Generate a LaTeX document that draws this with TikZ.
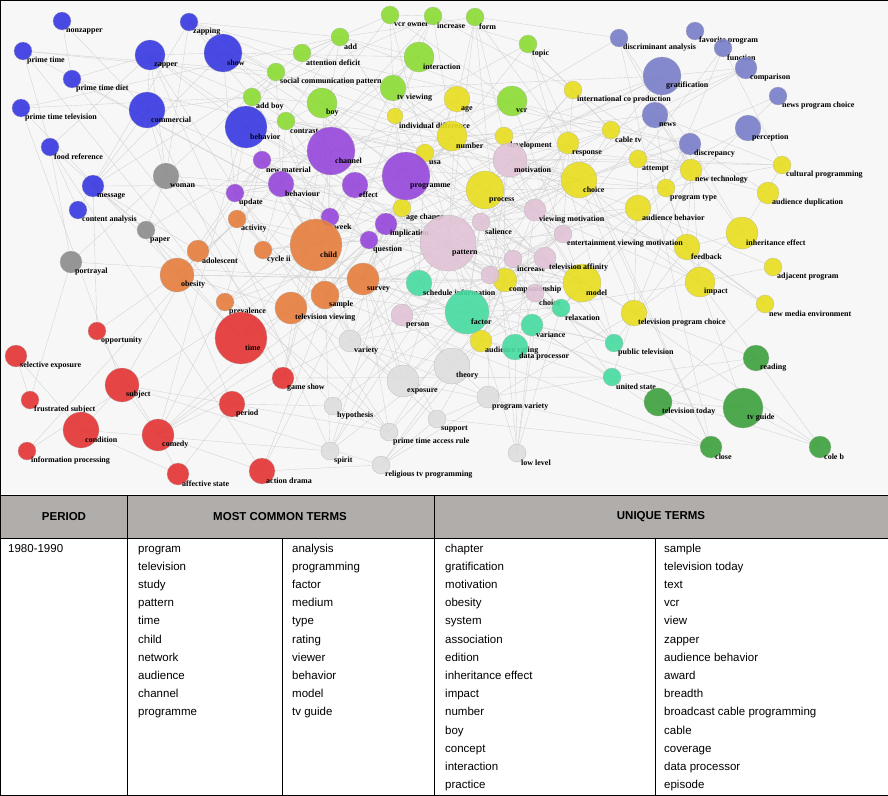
\documentclass[tikz,border=0pt]{standalone}
\usepackage{fontspec}
\setmainfont{Liberation Sans}
\newfontfamily\labfont{Liberation Serif}
\definecolor{cblue}{RGB}{55,55,225}
\definecolor{cgray}{RGB}{140,140,140}
\definecolor{cgreen}{RGB}{140,220,50}
\definecolor{cyel}{RGB}{232,222,30}
\definecolor{cpur}{RGB}{150,70,220}
\definecolor{cpink}{RGB}{225,195,215}
\definecolor{cteal}{RGB}{70,220,160}
\definecolor{corange}{RGB}{230,125,60}
\definecolor{cred}{RGB}{228,50,50}
\definecolor{clight}{RGB}{222,222,222}
\definecolor{cdgreen}{RGB}{60,160,60}
\definecolor{clav}{RGB}{120,125,200}
\definecolor{hdr}{RGB}{176,173,171}
\def\mylist{62/21/9/cblue/nonzapper, 189/22/9/cblue/zapping, 23/51/9/cblue/prime time, 150/55/15/cblue/zapper, 223/53/19/cblue/show, 72/79/9/cblue/prime time diet, 21/108/9/cblue/prime time television, 147/110/18/cblue/commercial, 246/127/21/cblue/behavior, 50/147/9/cblue/food reference, 93/186/11/cblue/message, 78/210/9/cblue/content analysis,
166/176/13/cgray/woman, 146/230/9/cgray/paper, 71/262/11/cgray/portrayal,
390/15/9/cgreen/vcr owner, 433/16/9/cgreen/increase, 475/17/9/cgreen/form, 340/37/9/cgreen/add, 302/53/9/cgreen/attention deficit, 419/57/15/cgreen/interaction, 528/44/9/cgreen/topic, 276/72/9/cgreen/social communication pattern, 393/88/13/cgreen/tv viewing, 322/103/15/cgreen/boy, 512/101/15/cgreen/vcr, 252/97/9/cgreen/add boy, 286/121/9/cgreen/contrast,
457/99/13/cyel/age, 573/90/9/cyel/international co production, 395/116/8/cyel/individual difference, 452/136/15/cyel/number, 504/136/9/cyel/development, 425/153/9/cyel/usa, 568/143/11/cyel/response, 611/130/9/cyel/cable tv, 638/159/9/cyel/attempt, 579/180/18/cyel/choice, 691/170/11/cyel/new technology, 485/190/19/cyel/process, 782/165/9/cyel/cultural programming, 666/188/9/cyel/program type, 768/193/11/cyel/audience duplication, 638/208/13/cyel/audience behavior, 742/233/16/cyel/inheritance effect, 402/208/9/cyel/age change, 687/247/13/cyel/feedback, 773/267/9/cyel/adjacent program, 700/282/15/cyel/impact, 765/304/9/cyel/new media environment, 505/280/12/cyel/companionship, 582/283/19/cyel/model, 634/313/13/cyel/television program choice, 481/341/11/cyel/audience rating,
331/151/24/cpur/channel, 406/176/24/cpur/programme, 262/160/9/cpur/new material, 281/184/13/cpur/behaviour, 355/185/13/cpur/effect, 235/193/9/cpur/update, 330/217/9/cpur/week, 386/224/11/cpur/implication, 369/240/9/cpur/question,
510/160/17/cpink/motivation, 535/210/11/cpink/viewing motivation, 481/222/9/cpink/salience, 448/243/28/cpink/pattern, 563/234/9/cpink/entertainment viewing motivation, 513/259/9/cpink/increase, 545/258/11/cpink/television affinity, 490/275/9/cpink/, 535/293/9/cpink/choice, 402/315/11/cpink/person,
419/283/13/cteal/schedule information, 467/312/22/cteal/factor, 532/325/11/cteal/variance, 515/347/13/cteal/data processor, 561/308/9/cteal/relaxation, 614/343/9/cteal/public television, 612/377/9/cteal/united state,
237/219/9/corange/activity, 316/245/26/corange/child, 263/250/9/corange/cycle ii, 198/251/11/corange/adolescent, 177/275/17/corange/obesity, 363/279/16/corange/survey, 325/295/14/corange/sample, 225/302/9/corange/prevalence, 291/308/16/corange/television viewing,
241/338/26/cred/time, 97/331/9/cred/opportunity, 16/356/11/cred/selective exposure, 122/385/17/cred/subject, 283/378/11/cred/game show, 30/400/9/cred/frustrated subject, 232/404/13/cred/period, 81/430/18/cred/condition, 158/435/16/cred/comedy, 27/451/9/cred/information processing, 178/474/11/cred/affective state, 262/471/13/cred/action drama,
350/341/11/clight/variety, 403/381/16/clight/exposure, 452/366/18/clight/theory, 488/397/11/clight/program variety, 333/406/9/clight/hypothesis, 437/419/9/clight/support, 389/432/9/clight/prime time access rule, 330/451/9/clight/spirit, 381/465/9/clight/religious tv programming, 517/453/9/clight/low level,
756/358/13/cdgreen/reading, 658/402/14/cdgreen/television today, 743/408/20/cdgreen/tv guide, 711/447/11/cdgreen/close, 820/447/11/cdgreen/cole b,
619/38/9/clav/discriminant analysis, 695/31/9/clav/favorite program, 723/48/9/clav/function, 662/76/19/clav/gratification, 746/68/11/clav/comparison, 778/96/9/clav/news program choice, 655/115/13/clav/news, 748/128/13/clav/perception, 690/144/11/clav/discrepancy}
\tikzset{
 edge/.style={draw=black!18, line width=0.35pt},
 ball/.style={circle, inner sep=0pt, draw=white!70!black, line width=0.2pt, fill opacity=0.9},
 lab/.style={font=\labfont\bfseries\fontsize{8}{9}\selectfont, inner sep=0pt, anchor=west, text=black},
 cell/.style={font=\fontsize{11.5}{13}\selectfont, inner sep=0pt, anchor=base west},
 head/.style={font=\bfseries\fontsize{11.5}{13}\selectfont, inner sep=0pt},
 tline/.style={draw=black, line width=0.8pt}
}
\begin{document}
\begin{tikzpicture}[x=1pt,y=-1pt]
\useasboundingbox (0,0) rectangle (888,795);
\fill[black!3] (0,0) rectangle (888,494);
\foreach [count=\i] \x/\y/\r/\c/\t in \mylist {
  \coordinate (c\i) at (\x,\y);
  \expandafter\xdef\csname px\i\endcsname{\x}
  \expandafter\xdef\csname py\i\endcsname{\y}
  \xdef\N{\i}
}
\pgfmathsetseed{11}
\foreach \i in {1,...,\N}{
  \foreach \j in {\i,...,\N}{
    \ifnum\i<\j
      \pgfmathsetmacro\dd{veclen((\csname px\i\endcsname-\csname px\j\endcsname)/10,(\csname py\i\endcsname-\csname py\j\endcsname)/10)}
      \pgfmathsetmacro\pp{rnd}
      \pgfmathparse{((\dd<16)&&(\pp<0.22))||((\dd<45)&&(\pp<0.025))?1:0}
      \ifdim\pgfmathresult pt>0.5pt \draw[edge] (c\i) -- (c\j); \fi
    \fi
  }
}
\foreach [count=\i] \x/\y/\r/\c/\t in \mylist {
  \node[ball, fill=\c, minimum size=2*\r] (n\i) at (\x,\y) {};
  \node[lab] (l\i) at (\x+4,\y+10) {\t};
}
% table
\fill[hdr] (0,495) rectangle (888,538);
\draw[tline] (0,0) rectangle (888,795);
\draw[tline] (0,495) -- (888,495);
\draw[tline] (0,538) -- (888,538);
\draw[tline] (127,495) -- (127,795);
\draw[tline] (434,495) -- (434,795);
\draw[draw=black, line width=0.5pt] (282,538) -- (282,795);
\draw[draw=black, line width=0.5pt] (655,538) -- (655,795);
\node[head] (h1) at (64,517) {PERIOD};
\node[head] (h2) at (280,517) {MOST COMMON TERMS};
\node[head] (h3) at (661,517) {UNIQUE TERMS};
\node[cell] (p) at (8,552) {1980-1990};
\foreach [count=\k] \t in {program,television,study,pattern,time,child,network,audience,channel,programme}
  \node[cell] (a\k) at (138,552+18.2*\k-18.2) {\t};
\foreach [count=\k] \t in {analysis,programming,factor,medium,type,rating,viewer,behavior,model,tv guide}
  \node[cell] (b\k) at (292,552+18.2*\k-18.2) {\t};
\foreach [count=\k] \t in {chapter,gratification,motivation,obesity,system,association,edition,inheritance effect,impact,number,boy,concept,interaction,practice}
  \node[cell] (u\k) at (445,552+18.2*\k-18.2) {\t};
\foreach [count=\k] \t in {sample,television today,text,vcr,view,zapper,audience behavior,award,breadth,broadcast cable programming,cable,coverage,data processor,episode}
  \node[cell] (v\k) at (664,552+18.2*\k-18.2) {\t};
\end{tikzpicture}
\end{document}
